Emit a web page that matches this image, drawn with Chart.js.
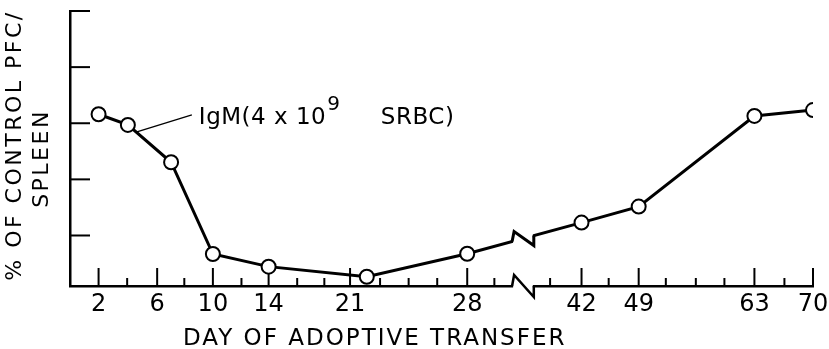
<!DOCTYPE html>
<html>
<head>
<meta charset="utf-8">
<script src="https://cdn.jsdelivr.net/npm/chart.js@4.4.0/dist/chart.umd.min.js"></script>
<style>
  html, body { margin: 0; padding: 0; background: #fff; }
  canvas { display: block; }
</style>
</head>
<body>
<canvas id="pfcChart" width="829" height="349"></canvas>
<script>
// days after transfer and PFC/spleen (% of control, axis carries no numbers)
const days = [2, 4, 7, 10, 14, 22, 28, 42, 49, 63, 70];
const pfc = [63.2, 59.4, 46.1, 13.4, 8.9, 5.3, 13.5, 24.6, 30.3, 62.6, 64.7];

// labelled days and where they sit along the (uneven, broken) time axis
const dayLabels = [2, 6, 10, 14, 21, 28, 42, 49, 63, 70];
const dayAxisPos = [0, 2.05, 4, 5.95, 8.8, 12.9, 16.9, 18.9, 22.95, 25];
const minorAxisPos = [1, 3, 5, 6.95, 7.9, 9.85, 10.85, 11.85, 13.85, 15.8, 17.85, 19.85, 20.9, 21.9, 24];
const breakAxisPos = 14.85;

const yTicks = [20, 40, 60, 80, 100];

const seriesLabel = ['IgM(4 x 10', '9', 'SRBC)'];

Chart.defaults.font.family = "'DejaVu Sans', sans-serif";
Chart.defaults.color = '#000';

// day -> position on the drawn axis, piecewise between the labelled days
function dayToAxis(d) {
  for (let i = 0; i < dayLabels.length - 1; i++) {
    if (d <= dayLabels[i + 1]) {
      const t = (d - dayLabels[i]) / (dayLabels[i + 1] - dayLabels[i]);
      return dayAxisPos[i] + t * (dayAxisPos[i + 1] - dayAxisPos[i]);
    }
  }
  return dayAxisPos[dayAxisPos.length - 1];
}

function line(ctx, pts) {
  ctx.beginPath();
  ctx.moveTo(pts[0][0], pts[0][1]);
  for (let i = 1; i < pts.length; i++) ctx.lineTo(pts[i][0], pts[i][1]);
  ctx.stroke();
}

// the little "N" used to mark the break in the axis and in the curve
function zigzag(ctx, x1, y1, x2, y2, h) {
  line(ctx, [[x1, y1], [x1 + 2, y1 - h], [x2, y2 + h], [x2, y2]]);
}

const axisDecor = {
  id: 'axisDecor',
  beforeDatasetsDraw(chart) {
    const { ctx, chartArea, scales: { x, y } } = chart;
    ctx.save();
    ctx.strokeStyle = '#000';
    ctx.lineWidth = 2;
    // ticks point inwards
    dayAxisPos.forEach(p => {
      const px = x.getPixelForValue(p);
      line(ctx, [[px, chartArea.bottom], [px, chartArea.bottom - 18]]);
    });
    minorAxisPos.forEach(p => {
      const px = x.getPixelForValue(p);
      line(ctx, [[px, chartArea.bottom], [px, chartArea.bottom - 8]]);
    });
    yTicks.forEach(v => {
      const py = y.getPixelForValue(v);
      line(ctx, [[chartArea.left, py], [chartArea.left + 20, py]]);
    });
    ctx.restore();
  },
  afterDraw(chart) {
    const { ctx, chartArea, scales: { x } } = chart;
    const pts = chart.getDatasetMeta(0).data;
    const bx1 = x.getPixelForValue(breakAxisPos - 0.38);
    const bx2 = x.getPixelForValue(breakAxisPos + 0.38);

    ctx.save();
    ctx.strokeStyle = '#000';
    ctx.fillStyle = '#fff';
    ctx.lineJoin = 'miter';

    // break in the x axis
    const ay = chartArea.bottom;
    ctx.fillRect(bx1 + 1, ay - 3, bx2 - bx1 - 2, 6);
    ctx.lineWidth = 2.5;
    zigzag(ctx, bx1, ay, bx2, ay, 11);

    // break in the curve
    let i = 0;
    while (i < pts.length - 2 && pts[i + 1].x < bx1) i++;
    const a = pts[i], b = pts[i + 1];
    const yAt = px => a.y + (px - a.x) * (b.y - a.y) / (b.x - a.x);
    const ly1 = yAt(bx1), ly2 = yAt(bx2);
    ctx.fillRect(bx1 + 1, Math.min(ly1, ly2) - 5, bx2 - bx1 - 2, Math.abs(ly1 - ly2) + 10);
    ctx.lineWidth = 3;
    zigzag(ctx, bx1, ly1, bx2, ly2, 10);

    ctx.fillStyle = '#000';

    // series label with leader
    const p = pts[1];
    ctx.lineWidth = 1.3;
    line(ctx, [[p.x + 9, p.y + 7], [p.x + 64, p.y - 10]]);
    ctx.font = "23px 'DejaVu Sans'";
    ctx.letterSpacing = '0.5px';
    ctx.textAlign = 'left';
    ctx.textBaseline = 'alphabetic';
    const tx = p.x + 71, ty = p.y - 1;
    ctx.fillText(seriesLabel[0], tx, ty);
    const w = ctx.measureText(seriesLabel[0]).width;
    ctx.font = "20px 'DejaVu Sans'";
    ctx.fillText(seriesLabel[1], tx + w + 1, ty - 14);
    ctx.font = "23px 'DejaVu Sans'";
    ctx.fillText(seriesLabel[2], tx + 182, ty);

    // x title
    ctx.font = "23px 'DejaVu Sans'";
    ctx.letterSpacing = '2px';
    ctx.fillText('DAY OF ADOPTIVE TRANSFER', chartArea.left + 113, chartArea.bottom + 59);

    // y title, two lines
    const mid = (chartArea.top + chartArea.bottom) / 2;
    ctx.font = "22px 'DejaVu Sans'";
    ctx.letterSpacing = '2.5px';
    ctx.textAlign = 'center';
    ctx.textBaseline = 'middle';
    [['% OF CONTROL PFC/', chartArea.left - 55, mid - 3], ['SPLEEN', chartArea.left - 28, mid + 10]]
      .forEach(([txt, cx, cy]) => {
        ctx.save();
        ctx.translate(cx, cy);
        ctx.rotate(-Math.PI / 2);
        ctx.fillText(txt, 0, 0);
        ctx.restore();
      });
    ctx.restore();
  }
};

new Chart(document.getElementById('pfcChart'), {
  type: 'line',
  data: {
    datasets: [{
      data: days.map((d, i) => ({ x: dayToAxis(d), y: pfc[i] })),
      borderColor: '#000',
      borderWidth: 3,
      tension: 0,
      pointRadius: 7,
      pointBackgroundColor: '#fff',
      pointBorderColor: '#000',
      pointBorderWidth: 2
    }]
  },
  options: {
    responsive: false,
    animation: false,
    devicePixelRatio: 1,
    layout: { padding: { left: 70, right: 16, top: 11, bottom: 0 } },
    plugins: { legend: { display: false }, tooltip: { enabled: false } },
    scales: {
      x: {
        type: 'linear',
        min: -1,
        max: 25,
        grid: { display: false, drawTicks: false },
        border: { display: true, color: '#000', width: 2.5 },
        afterBuildTicks: s => { s.ticks = dayAxisPos.map(v => ({ value: v })); },
        ticks: {
          autoSkip: false,
          maxRotation: 0,
          padding: 4,
          font: { size: 24 },
          callback: (v, i) => dayLabels[i]
        },
        afterFit: s => { s.height = 63; s.paddingLeft = 0; s.paddingRight = 0; }
      },
      y: {
        min: 2,
        max: 100,
        grid: { display: false, drawTicks: false },
        border: { display: true, color: '#000', width: 2.5 },
        ticks: { display: false },
        afterFit: s => { s.width = 0; }
      }
    }
  },
  plugins: [axisDecor]
});
</script>
</body>
</html>
